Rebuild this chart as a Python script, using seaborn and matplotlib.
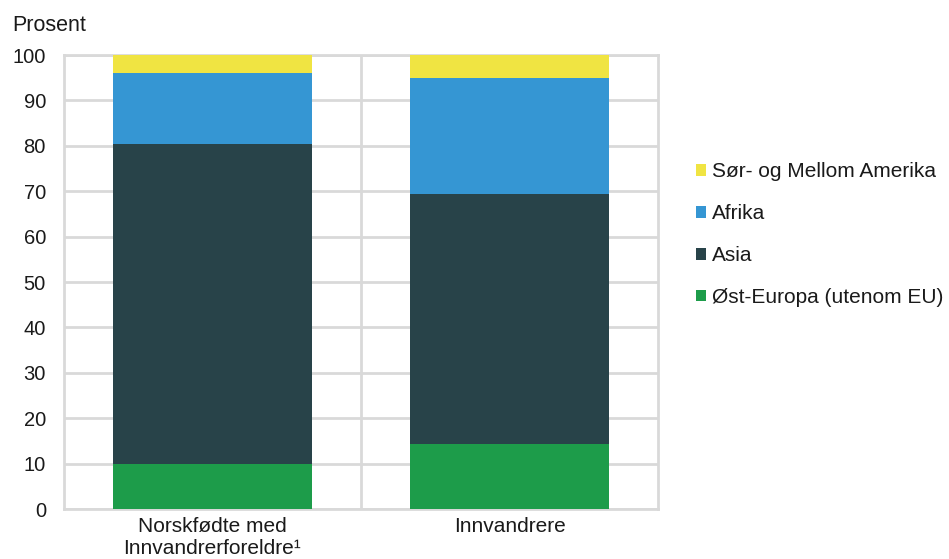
import numpy as np
import pandas as pd
import matplotlib
matplotlib.use("Agg")
import matplotlib.pyplot as plt
import seaborn as sns
from matplotlib.patches import Patch

# data (prosent)
grupper = ["Norskfødte med\nInnvandrerforeldre¹", "Innvandrere"]
regioner = ["Øst-Europa (utenom EU)", "Asia", "Afrika", "Sør- og Mellom Amerika"]
ost_europa = [9.9, 14.3]
asia = [70.4, 55.1]
afrika = [15.8, 25.6]
sor_amerika = [3.9, 5.0]
farger = ["#1d9c4a", "#284349", "#3596d3", "#f0e442"]

sns.set_theme(style="white")
plt.rcParams["font.family"] = ["Liberation Sans", "DejaVu Sans"]

serier = [ost_europa, asia, afrika, sor_amerika]
kum = np.cumsum(np.array(serier), axis=0)

fig = plt.figure(figsize=(9.49, 5.59), dpi=100)
ax = fig.add_axes([0.0674, 0.0894, 0.626, 0.8122])

# tegn kumulative søyler ovenfra og ned
for i in range(len(serier) - 1, -1, -1):
    df = pd.DataFrame({"gruppe": grupper, "verdi": kum[i]})
    sns.barplot(data=df, x="gruppe", y="verdi", color=farger[i], width=0.667,
                saturation=1, ax=ax, linewidth=0, zorder=3)

ax.set_ylim(0, 100)
ax.set_xlim(-0.5, 1.5)
ax.set_yticks(range(0, 101, 10))
ax.yaxis.grid(True, color="#d9d9d9", linewidth=2, zorder=0)
ax.axvline(0.5, color="#d9d9d9", linewidth=2, zorder=0)
for s in ax.spines.values():
    s.set_color("#d9d9d9")
    s.set_linewidth(2)
ax.set_xlabel("")
ax.set_ylabel("")
ax.tick_params(axis="y", length=0, labelsize=14.5, colors="#1a1a1a", pad=13)
ax.tick_params(axis="x", length=0, labelsize=15, colors="#1a1a1a", pad=6)

fig.text(0.013, 0.955, "Prosent", fontsize=15.5, color="#1a1a1a", ha="left", va="center")

handles = [Patch(facecolor=farger[i], edgecolor="none") for i in range(len(regioner) - 1, -1, -1)]
labels = [regioner[i] for i in range(len(regioner) - 1, -1, -1)]
leg = fig.legend(handles, labels, loc="center left", bbox_to_anchor=(0.733, 0.5805),
                 frameon=False, fontsize=15, handlelength=0.5, handleheight=0.5,
                 handletextpad=0.3, labelspacing=1.1, borderaxespad=0, borderpad=0)
for t in leg.get_texts():
    t.set_color("#1a1a1a")

fig.savefig("out.png", dpi=100)
